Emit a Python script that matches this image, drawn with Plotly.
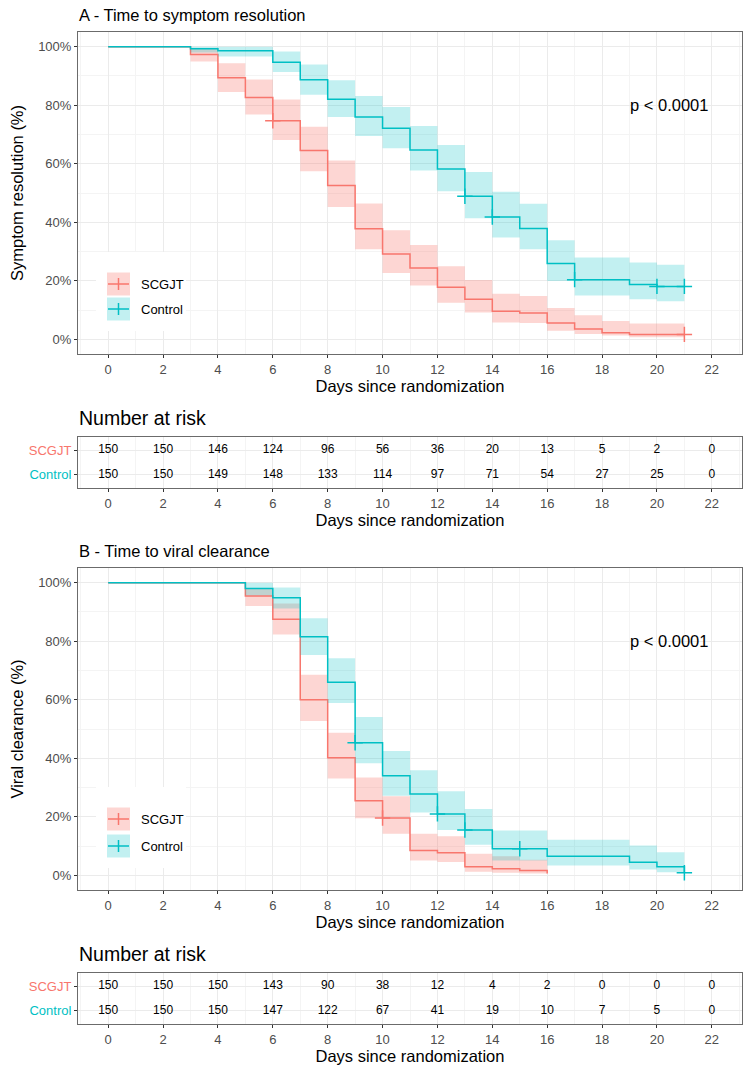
import plotly.graph_objects as go

# ---------------- DATA ----------------
days_ticks = [0, 2, 4, 6, 8, 10, 12, 14, 16, 18, 20, 22]

# Panel A - symptom resolution (percent)
A_time_scgjt = [0, 3, 4, 5, 6, 7, 8, 9, 10, 11, 12, 13, 14, 15, 16, 17, 18, 19, 21]
A_surv_scgjt = [100, 97.3, 89.4, 82.6, 74.7, 64.5, 52.6, 37.8, 29.2, 24.4, 17.8, 13.7, 9.6, 9.0, 5.6, 3.5, 2.3, 1.7, 1.7]
A_low_scgjt = [100, 94.9, 84.5, 76.8, 68.1, 57.4, 45.2, 30.8, 22.7, 18.4, 12.5, 9.2, 5.8, 5.6, 2.9, 1.8, 1.3, 0.7, 0.7]
A_up_scgjt = [100, 99.4, 94.3, 88.8, 81.9, 72.6, 61.1, 46.4, 37.3, 32.2, 25.0, 20.3, 15.6, 14.8, 10.7, 8.2, 6.3, 5.4, 5.4]
A_cens_t_scgjt = [6, 21]
A_cens_s_scgjt = [74.7, 1.7]

A_time_control = [0, 3, 4, 6, 7, 8, 9, 10, 11, 12, 13, 14, 15, 16, 17, 19, 20, 21]
A_surv_control = [100, 99.3, 98.6, 94.7, 88.7, 82.0, 76.0, 72.1, 64.7, 58.2, 48.9, 41.8, 37.9, 25.9, 20.4, 18.7, 18.1, 18.1]
A_low_control = [100, 98.0, 96.6, 91.3, 83.6, 76.0, 69.5, 65.3, 57.7, 50.6, 41.4, 34.8, 30.8, 19.9, 15.0, 13.7, 13.0, 13.0]
A_up_control = [100, 100, 100, 98.3, 93.9, 88.5, 83.1, 79.4, 72.9, 66.4, 57.2, 50.4, 46.3, 33.9, 28.0, 26.3, 25.5, 25.5]
A_cens_t_control = [13, 14, 17, 20, 21]
A_cens_s_control = [48.9, 41.8, 20.4, 18.1, 18.1]

A_risk_scgjt = [150, 150, 146, 124, 96, 56, 36, 20, 13, 5, 2, 0]
A_risk_control = [150, 150, 149, 148, 133, 114, 97, 71, 54, 27, 25, 0]

# Panel B - viral clearance (percent)
B_time_scgjt = [0, 5, 6, 7, 8, 9, 10, 11, 12, 13, 14, 15, 16]
B_surv_scgjt = [100, 95.4, 87.5, 60.0, 40.2, 25.5, 19.6, 8.5, 7.7, 2.9, 2.3, 1.7, 0.6]
B_low_scgjt = [100, 92.0, 82.3, 52.7, 33.1, 19.5, 14.2, 5.1, 4.6, 1.2, 0.9, 0.6, 0.6]
B_up_scgjt = [100, 98.0, 92.9, 68.5, 48.7, 33.4, 27.0, 14.2, 13.4, 7.4, 6.5, 5.3, 5.3]
B_cens_t_scgjt = [10]
B_cens_s_scgjt = [19.6]

B_time_control = [0, 5, 6, 7, 8, 9, 10, 11, 12, 13, 14, 16, 19, 20, 21]
B_surv_control = [100, 98.0, 94.8, 81.5, 66.0, 45.3, 34.0, 27.8, 21.0, 15.5, 9.1, 6.5, 4.5, 2.9, 0.9]
B_low_control = [100, 95.7, 91.2, 75.3, 58.9, 38.3, 27.2, 21.5, 15.5, 10.5, 5.1, 3.4, 2.0, 1.1, 1.1]
B_up_control = [100, 100, 98.3, 87.8, 74.2, 54.1, 42.5, 35.9, 28.7, 22.7, 15.3, 12.2, 10.2, 7.9, 7.9]
B_cens_t_control = [9, 12, 13, 15, 21]
B_cens_s_control = [45.3, 21.0, 15.5, 9.1, 0.9]

B_risk_scgjt = [150, 150, 150, 143, 90, 38, 12, 4, 2, 0, 0, 0]
B_risk_control = [150, 150, 150, 147, 122, 67, 41, 19, 10, 7, 5, 0]

groups = ["SCGJT", "Control"]

# ---------------- STYLE ----------------
W, H = 750, 1072
RED, CYAN = "#F8766D", "#00BFC4"
RED_F, CYAN_F = "rgba(248,118,109,0.30)", "rgba(0,191,196,0.24)"
FONT = "Liberation Sans, Arial, sans-serif"
GRID, MINOR = "#EBEBEB", "#F4F4F4"
BORDER = "#6b6b6b"
TSIZE = 16.5


def px(x):
    return x / W


def py(y):
    return 1 - y / H


fig = go.Figure()


def add_curve(xa, ya, t, s, lo, up, ct, cs, color, fill, name):
    fig.add_trace(go.Scatter(x=t, y=lo, mode="lines", line=dict(width=0, shape="hv"),
                             xaxis=xa, yaxis=ya, showlegend=False, hoverinfo="skip"))
    fig.add_trace(go.Scatter(x=t, y=up, mode="lines", line=dict(width=0, shape="hv"),
                             fill="tonexty", fillcolor=fill,
                             xaxis=xa, yaxis=ya, showlegend=False, hoverinfo="skip"))
    fig.add_trace(go.Scatter(x=t, y=s, mode="lines", line=dict(color=color, width=1.5, shape="hv"),
                             xaxis=xa, yaxis=ya, showlegend=False, name=name))
    fig.add_trace(go.Scatter(x=ct, y=cs, mode="markers",
                             marker=dict(symbol="cross-thin", size=11, line=dict(color=color, width=1.5)),
                             xaxis=xa, yaxis=ya, showlegend=False, name=name))


add_curve("x", "y", A_time_scgjt, A_surv_scgjt, A_low_scgjt, A_up_scgjt, A_cens_t_scgjt, A_cens_s_scgjt, RED, RED_F, "SCGJT")
add_curve("x", "y", A_time_control, A_surv_control, A_low_control, A_up_control, A_cens_t_control, A_cens_s_control, CYAN, CYAN_F, "Control")
add_curve("x3", "y3", B_time_scgjt, B_surv_scgjt, B_low_scgjt, B_up_scgjt, B_cens_t_scgjt, B_cens_s_scgjt, RED, RED_F, "SCGJT")
add_curve("x3", "y3", B_time_control, B_surv_control, B_low_control, B_up_control, B_cens_t_control, B_cens_s_control, CYAN, CYAN_F, "Control")

# risk tables
for xa, ya, rs, rc in [("x2", "y2", A_risk_scgjt, A_risk_control), ("x4", "y4", B_risk_scgjt, B_risk_control)]:
    fig.add_trace(go.Scatter(x=days_ticks, y=[2] * len(days_ticks), mode="text", text=[str(v) for v in rs],
                             textfont=dict(size=12, color="black", family=FONT),
                             xaxis=xa, yaxis=ya, showlegend=False))
    fig.add_trace(go.Scatter(x=days_ticks, y=[1] * len(days_ticks), mode="text", text=[str(v) for v in rc],
                             textfont=dict(size=12, color="black", family=FONT),
                             xaxis=xa, yaxis=ya, showlegend=False))

XDOM = [px(78), px(742)]
XR = [-1.1, 23.1]


def xaxis(anchor, title):
    return dict(domain=XDOM, range=XR, anchor=anchor, tickmode="array", tickvals=days_ticks,
                ticktext=[str(d) for d in days_ticks],
                showgrid=True, gridcolor=GRID, gridwidth=1,
                minor=dict(dtick=1, tick0=1, showgrid=True, gridcolor=MINOR, gridwidth=0.8, ticks=""),
                showline=True, linecolor=BORDER, linewidth=1, mirror=True,
                ticks="outside", ticklen=3, tickcolor="#333", tickwidth=1,
                tickfont=dict(size=13, color="#4D4D4D", family=FONT),
                title=dict(text=title, font=dict(size=TSIZE, color="black", family=FONT), standoff=3),
                zeroline=False)


def yaxis_km(anchor, dom, title):
    return dict(domain=dom, range=[-5, 105], anchor=anchor, tickmode="array",
                tickvals=[0, 20, 40, 60, 80, 100], ticktext=["0%", "20%", "40%", "60%", "80%", "100%"],
                showgrid=True, gridcolor=GRID, gridwidth=1,
                minor=dict(dtick=10, tick0=10, showgrid=True, gridcolor=MINOR, gridwidth=0.8, ticks=""),
                showline=True, linecolor=BORDER, linewidth=1, mirror=True,
                ticks="outside", ticklen=3, tickcolor="#333", tickwidth=1,
                tickfont=dict(size=13, color="#4D4D4D", family=FONT),
                title=dict(text=title, font=dict(size=TSIZE, color="black", family=FONT), standoff=10),
                zeroline=False)


def yaxis_tab(anchor, dom):
    return dict(domain=dom, range=[0.45, 2.55], anchor=anchor, tickmode="array",
                tickvals=[2, 1],
                ticktext=['<span style="color:%s">%s</span>' % (RED, groups[0]),
                          '<span style="color:%s">%s</span>' % (CYAN, groups[1])],
                showgrid=True, gridcolor=GRID, gridwidth=1,
                showline=True, linecolor=BORDER, linewidth=1, mirror=True,
                ticks="outside", ticklen=3, tickcolor="#333", tickwidth=1,
                tickfont=dict(size=13, family=FONT), zeroline=False, fixedrange=True)


fig.update_layout(
    width=W, height=H, margin=dict(l=0, r=0, t=0, b=0),
    paper_bgcolor="white", plot_bgcolor="white",
    font=dict(family=FONT),
    showlegend=False,
    xaxis=xaxis("y", "Days since randomization"),
    yaxis=yaxis_km("x", [py(354), py(32)], "Symptom resolution (%)"),
    xaxis2=xaxis("y2", "Days since randomization"),
    yaxis2=yaxis_tab("x2", [py(488), py(437)]),
    xaxis3=xaxis("y3", "Days since randomization"),
    yaxis3=yaxis_km("x3", [py(890), py(568)], "Viral clearance (%)"),
    xaxis4=xaxis("y4", "Days since randomization"),
    yaxis4=yaxis_tab("x4", [py(1024), py(973)]),
)

annotations = []
shapes = []
# titles
annotations.append(dict(text="A - Time to symptom resolution", x=px(77), y=py(15), xref="paper", yref="paper",
                        xanchor="left", yanchor="middle", showarrow=False, font=dict(size=TSIZE, color="black")))
annotations.append(dict(text="B - Time to viral clearance", x=px(77), y=py(551), xref="paper", yref="paper",
                        xanchor="left", yanchor="middle", showarrow=False, font=dict(size=TSIZE, color="black")))
annotations.append(dict(text="Number at risk", x=px(77), y=py(418), xref="paper", yref="paper",
                        xanchor="left", yanchor="middle", showarrow=False, font=dict(size=19.5, color="black")))
annotations.append(dict(text="Number at risk", x=px(77), y=py(954), xref="paper", yref="paper",
                        xanchor="left", yanchor="middle", showarrow=False, font=dict(size=19.5, color="black")))
# p-values
for xr, yr in [("x", "y"), ("x3", "y3")]:
    annotations.append(dict(text="p < 0.0001", x=20.45, y=80, xref=xr, yref=yr, showarrow=False,
                            xanchor="center", yanchor="middle", font=dict(size=TSIZE, color="black")))

# manual legends
for (ys, yc) in [(284, 309), (819, 846)]:
    shapes.append(dict(type="rect", xref="paper", yref="paper", x0=px(96), x1=px(186),
                       y0=py(ys - 32), y1=py(yc + 22), fillcolor="white", line=dict(width=0), layer="above"))
    for yy, col, fcol, lab in [(ys, RED, RED_F, "SCGJT"), (yc, CYAN, CYAN_F, "Control")]:
        shapes.append(dict(type="rect", xref="paper", yref="paper", x0=px(107), x1=px(130),
                           y0=py(yy - 11.5), y1=py(yy + 11.5), fillcolor=fcol, line=dict(width=0), layer="above"))
        shapes.append(dict(type="line", xref="paper", yref="paper", x0=px(108), x1=px(129),
                           y0=py(yy), y1=py(yy), line=dict(color=col, width=1.5), layer="above"))
        shapes.append(dict(type="line", xref="paper", yref="paper", x0=px(118.5), x1=px(118.5),
                           y0=py(yy - 6), y1=py(yy + 6), line=dict(color=col, width=1.5), layer="above"))
        annotations.append(dict(text=lab, x=px(139), y=py(yy), xref="paper", yref="paper", xanchor="left",
                                yanchor="middle", showarrow=False, font=dict(size=13, color="black")))

fig.update_layout(annotations=annotations, shapes=shapes)
fig.write_html("out.html")
